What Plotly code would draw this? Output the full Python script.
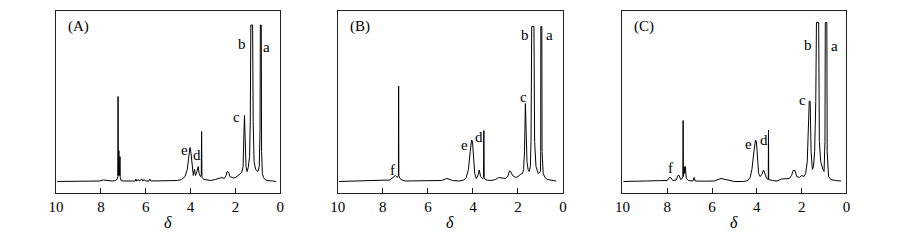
import plotly.graph_objects as go

# ---- Data: traced spectra (chemical shift delta, intensity above baseline) ----
delta_A = [9.95, 8.5, 8.05, 7.9, 7.5, 7.35, 7.28, 7.245, 7.235, 7.225, 7.20, 7.19, 7.175, 7.165, 7.15, 7.14,
           7.10, 7.0, 6.6, 6.47, 6.44, 6.40, 6.32, 6.28, 6.18, 6.14, 6.07, 6.02, 5.85, 5.82, 5.78, 5.5, 5.0,
           4.6, 4.4, 4.25, 4.15, 4.08, 4.03, 3.98, 3.93, 3.88, 3.83, 3.78, 3.72, 3.66, 3.62, 3.56, 3.525,
           3.51, 3.495, 3.4, 3.3, 3.1, 2.9, 2.7, 2.6, 2.5, 2.42, 2.37, 2.3, 2.25, 2.18, 2.1, 2.0, 1.9, 1.8,
           1.72, 1.66, 1.63, 1.60, 1.57, 1.53, 1.48, 1.43, 1.37, 1.34, 1.315, 1.235, 1.21, 1.17, 1.1, 1.0,
           0.94, 0.905, 0.89, 0.85, 0.835, 0.80, 0.75, 0.68, 0.6, 0.5, 0.35, 0.2]
inten_A = [0, 0, 0.5, 1.5, 0.5, 1, 2, 5, 85, 6, 31, 8, 28, 6, 25, 4,
           1, 0.5, 0.5, 0.5, 2.5, 0.5, 2, 0.5, 2.5, 0.5, 2, 0.5, 0.5, 2.5, 0.5, 0.5, 0.5,
           1, 2, 5, 12, 25, 34, 28, 14, 6, 12, 6, 10, 15, 8, 5, 6,
           50, 4, 2, 1.5, 1, 2, 3, 4, 3, 6, 10, 9, 5, 4, 3.5, 4, 6, 7,
           9, 15, 40, 66, 45, 15, 10, 14, 25, 60, 156.5, 156.5, 60, 20, 12, 10,
           15, 50, 156.5, 156.5, 30, 8, 4, 2, 1, 0.5, 0.5, 0]

delta_B = [9.95, 8.5, 8.0, 7.7, 7.55, 7.45, 7.36, 7.31, 7.30, 7.29, 7.24, 7.15, 7.0, 6.5, 6.0, 5.5, 5.4,
           5.15, 4.9, 4.6, 4.4, 4.3, 4.2, 4.12, 4.06, 4.02, 3.97, 3.92, 3.85, 3.78, 3.72, 3.66, 3.56,
           3.53, 3.515, 3.50, 3.4, 3.2, 3.0, 2.85, 2.7, 2.55, 2.45, 2.38, 2.32, 2.24, 2.1, 2.0, 1.9,
           1.8, 1.75, 1.71, 1.67, 1.64, 1.60, 1.55, 1.5, 1.45, 1.42, 1.39, 1.29, 1.26, 1.2, 1.1, 1.0,
           0.99, 0.985, 0.94, 0.93, 0.88, 0.8, 0.7, 0.5, 0.3]
inten_B = [0, 0.5, 1, 1.5, 4, 6, 4, 6, 95.5, 6, 3, 1.5, 0.5, 0.5, 0.5, 0.5, 1,
           3, 1, 0.5, 1.5, 4, 12, 30, 41.5, 40, 25, 8, 3, 6, 11.5, 5, 3,
           4, 51, 3, 1.5, 1, 2, 4, 3.5, 3, 5, 10.5, 10, 6, 4, 5, 7,
           8, 12, 30, 78, 55, 20, 12, 10, 15, 40, 155, 155, 40, 15, 8, 10,
           30, 155, 155, 30, 8, 4, 2, 1, 0.5]

delta_C = [9.95, 8.5, 8.1, 8.0, 7.9, 7.85, 7.75, 7.6, 7.52, 7.47, 7.4, 7.33, 7.30, 7.29, 7.28, 7.25,
           7.22, 7.19, 7.15, 7.05, 6.85, 6.80, 6.75, 6.5, 6.0, 5.9, 5.6, 5.3, 5.0, 4.6, 4.4, 4.3,
           4.22, 4.13, 4.06, 4.02, 3.97, 3.92, 3.85, 3.78, 3.70, 3.63, 3.56, 3.49, 3.48, 3.47, 3.3,
           3.1, 2.9, 2.7, 2.55, 2.45, 2.38, 2.30, 2.22, 2.1, 2.0, 1.9, 1.82, 1.75, 1.70, 1.66, 1.62,
           1.58, 1.52, 1.47, 1.42, 1.37, 1.34, 1.24, 1.21, 1.15, 1.05, 1.0, 0.96, 0.945, 0.875, 0.86,
           0.8, 0.7, 0.5, 0.24]
inten_C = [0, 0.3, 0.5, 1, 4, 4, 1, 1.5, 6, 6, 2, 3, 5, 61, 5, 15,
           8, 15, 3, 1, 0.5, 4, 0.5, 0.3, 0, 0.5, 3, 1.5, 0, 0, 1, 4,
           12, 30, 41.5, 40, 25, 8, 5, 7, 11.5, 6, 3, 2, 51.5, 2, 1,
           0.5, 2.5, 2.5, 3, 6, 11, 11, 5, 4, 6, 5, 8, 20, 45, 80.5, 80,
           30, 12, 15, 30, 80, 159, 159, 40, 20, 12, 10, 40, 159, 159, 30,
           5, 2, 1, 0.5]

panel_names = ["(A)", "(B)", "(C)"]
tick_vals = [0, 2, 4, 6, 8, 10]
tick_text = ["0", "2", "4", "6", "8", "10"]

# peak labels: (letter, delta, height)
labels_A = [("a", 0.60, 135), ("b", 1.70, 137.5), ("c", 1.97, 65), ("d", 3.73, 26.5), ("e", 4.29, 31.5)]
labels_B = [("a", 0.59, 147), ("b", 1.70, 147), ("c", 1.77, 85), ("d", 3.71, 45), ("e", 4.38, 37), ("f", 7.56, 11.5)]
labels_C = [("a", 0.55, 136), ("b", 1.70, 136.5), ("c", 1.97, 81.5), ("d", 3.66, 41.5), ("e", 4.35, 38), ("f", 7.87, 13.5)]

spectra = [(delta_A, inten_A, labels_A), (delta_B, inten_B, labels_B), (delta_C, inten_C, labels_C)]

FONT = "Liberation Serif"
x_domains = [[48.7 / 900, 276.0 / 900], [334.3 / 900, 562.5 / 900], [622.7 / 900, 849.8 / 900]]
y_domain = [(243 - 193) / 243, (243 - 11) / 243]

fig = go.Figure()
annotations = []
for i, (dx, iy, labs) in enumerate(spectra):
    n = "" if i == 0 else str(i + 1)
    fig.add_trace(go.Scatter(x=dx, y=iy, mode="lines", line=dict(color="black", width=1),
                             xaxis="x" + n, yaxis="y" + n, showlegend=False, hoverinfo="skip"))
    fig.layout["xaxis" + n] = dict(
        domain=x_domains[i], range=[10, 0], anchor="y" + n,
        showline=True, linecolor="#222", linewidth=1, mirror=True,
        ticks="inside", ticklen=5, tickcolor="#222", tickvals=tick_vals, ticktext=tick_text,
        showgrid=False, zeroline=False, tickfont=dict(family=FONT, size=15, color="black"))
    fig.layout["yaxis" + n] = dict(
        domain=y_domain, range=[-11.5, 170.5], anchor="x" + n,
        showline=True, linecolor="#222", linewidth=1, mirror=True,
        showticklabels=False, ticks="", showgrid=False, zeroline=False)
    annotations.append(dict(text=panel_names[i], xref="x" + n, yref="y" + n, x=9.55, y=155,
                            xanchor="left", yanchor="middle", showarrow=False,
                            font=dict(family=FONT, size=15, color="black")))
    annotations.append(dict(text="<i>δ</i>", xref="x" + n, yref="paper", x=5, y=(243 - 222) / 243,
                            xanchor="center", yanchor="middle", showarrow=False,
                            font=dict(family=FONT, size=16, color="black")))
    for (t, lx, ly) in labs:
        annotations.append(dict(text=t, xref="x" + n, yref="y" + n, x=lx, y=ly,
                                xanchor="center", yanchor="middle", showarrow=False,
                                font=dict(family=FONT, size=15, color="black")))

fig.update_layout(width=900, height=243, margin=dict(l=0, r=0, t=0, b=0),
                  font=dict(family=FONT, color="black"),
                  paper_bgcolor="white", plot_bgcolor="white", annotations=annotations)
fig.write_html("out.html")
